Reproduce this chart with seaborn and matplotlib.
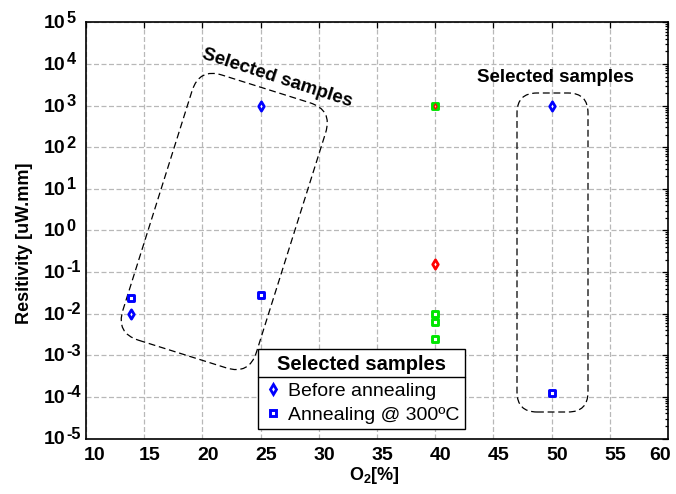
import numpy as np
import pandas as pd
import matplotlib
matplotlib.use("Agg")
import matplotlib.pyplot as plt
import seaborn as sns
from matplotlib.patches import FancyBboxPatch
from matplotlib.lines import Line2D
from matplotlib import transforms as mtransforms
from matplotlib.ticker import FixedLocator, NullLocator, LogLocator, NullFormatter

# ---------------- data ----------------
before_o2 = [13.9, 25.0, 50.0]
before_res = [0.010, 1000.0, 1000.0]
anneal_o2 = [13.9, 25.0, 50.0]
anneal_res = [0.024, 0.028, 1.23e-4]
other_before_o2 = [40.0, 40.0]
other_before_res = [1000.0, 0.155]
other_anneal_o2 = [40.0, 40.0, 40.0, 40.0]
other_anneal_res = [1000.0, 0.0098, 0.0064, 0.0024]

x_ticks = [10, 15, 20, 25, 30, 35, 40, 45, 50, 55, 60]
y_exponents = [-5, -4, -3, -2, -1, 0, 1, 2, 3, 4, 5]
legend_title = "Selected samples"
legend_labels = ["Before annealing", "Annealing @ 300ºC"]
note_text = "Selected samples"
x_label = "O$_{\\mathbf{2}}$[%]"
y_label = "Resitivity [uW.mm]"

# ---------------- style ----------------
sns.set_style("white")
plt.rcParams["font.family"] = ["Liberation Sans", "DejaVu Sans"]
plt.rcParams["mathtext.fontset"] = "custom"
plt.rcParams["mathtext.rm"] = "Liberation Sans"
plt.rcParams["mathtext.bf"] = "Liberation Sans:bold"
for k in ["text.color", "axes.labelcolor", "xtick.color", "ytick.color",
          "xtick.labelcolor", "ytick.labelcolor"]:
    plt.rcParams[k] = "black"

BLUE = "#0000ff"
RED = "#ff0000"
GREEN = "#00e600"

fig = plt.figure(figsize=(6.76, 4.94), dpi=100)
L, R, T, B = 86, 668, 22.4, 438.5
ax = fig.add_axes([L / 676, (494 - B) / 494, (R - L) / 676, (B - T) / 494])

df_b = pd.DataFrame({"o2": before_o2, "res": before_res})
df_a = pd.DataFrame({"o2": anneal_o2, "res": anneal_res})
df_ob = pd.DataFrame({"o2": other_before_o2, "res": other_before_res})
df_oa = pd.DataFrame({"o2": other_anneal_o2, "res": other_anneal_res})

sq_kw = dict(marker="s", s=24, color="white", linewidth=2.1, zorder=5)
di_kw = dict(marker="d", s=22, color="white", linewidth=2.0, zorder=5)

sns.scatterplot(data=df_oa, x="o2", y="res", edgecolor=GREEN, ax=ax,
                legend=False, **sq_kw)
sns.scatterplot(data=df_ob.iloc[1:], x="o2", y="res", edgecolor=RED, ax=ax,
                legend=False, **di_kw)
sns.scatterplot(data=df_ob.iloc[:1], x="o2", y="res", edgecolor=RED, ax=ax,
                legend=False, marker="d", s=7, color="#ffb0b0",
                linewidth=0.9, zorder=6)
sns.scatterplot(data=df_b, x="o2", y="res", edgecolor=BLUE, ax=ax,
                legend=False, **di_kw)
sns.scatterplot(data=df_a, x="o2", y="res", edgecolor=BLUE, ax=ax,
                legend=False, **sq_kw)

ax.set_yscale("log")
ax.set_xlim(10, 60)
ax.set_ylim(1e-5, 1e5)

# ---------------- ticks ----------------
ax.xaxis.set_major_locator(FixedLocator(x_ticks))
ax.xaxis.set_minor_locator(NullLocator())
ax.set_xticklabels([str(t) for t in x_ticks], fontsize=14, fontweight="bold")
ax.yaxis.set_major_locator(FixedLocator([10.0 ** e for e in y_exponents]))
ax.yaxis.set_minor_locator(LogLocator(base=10, subs=np.arange(2, 10), numticks=100))
ax.yaxis.set_major_formatter(NullFormatter())
ax.yaxis.set_minor_formatter(NullFormatter())
ax.tick_params(axis="both", which="both", direction="in", top=True, right=True,
               color="black", width=0.9)
ax.tick_params(axis="both", which="major", length=4.3)
ax.tick_params(axis="y", which="minor", length=2.3)
ax.tick_params(axis="x", which="major", pad=6)

# shift x tick labels like the reference
for i, lab in enumerate(ax.get_xticklabels()):
    dx = 3.8
    if i == 0:
        dx = 6.5
    elif i == len(x_ticks) - 1:
        dx = -6.0
    lab.set_transform(lab.get_transform() +
                      mtransforms.ScaledTranslation(dx / 72, 0, fig.dpi_scale_trans))

# y tick labels as base + exponent
for e in y_exponents:
    ax.annotate("10", xy=(0, 10.0 ** e), xycoords=("axes fraction", "data"),
                xytext=(-15.0, -4.3), textcoords="offset points",
                ha="right", va="baseline", fontsize=14, fontweight="bold",
                annotation_clip=False)
    ax.annotate(str(e), xy=(0, 10.0 ** e),
                xycoords=("axes fraction", "data"),
                xytext=(-13.8, -0.3), textcoords="offset points",
                ha="left", va="baseline", fontsize=11.8, fontweight="bold",
                annotation_clip=False)

for sp in ax.spines.values():
    sp.set_color("black")
    sp.set_linewidth(1.2)

ax.grid(True, which="major", color="#b8b8b8", linestyle=(0, (4, 2)), linewidth=0.9)
ax.set_axisbelow(True)

ax.set_xlabel(x_label, fontsize=13, fontweight="bold", va="center")
ax.xaxis.set_label_coords(0.496, -0.088)
ax.set_ylabel(y_label, fontsize=13, fontweight="bold", va="center")
ax.yaxis.set_label_coords(-0.106, 0.47)

# ---------------- annotations ----------------
ax.text(26.4, 4.6e3, note_text, rotation=-18, rotation_mode="anchor",
        ha="center", va="center", fontsize=13.5, fontweight="bold", zorder=7)
ax.text(50.3, 4.8e3, note_text, ha="center", va="center",
        fontsize=13.5, fontweight="bold", zorder=7)

box_kw = dict(fill=False, edgecolor="black", linewidth=0.9,
              linestyle=(0, (5.5, 3)), clip_on=False, zorder=4)
cx, cy, w, h = 2.2425, 2.725, 1.40, 2.78
rot = mtransforms.Affine2D().rotate_deg_around(cx, cy, -17.5) + fig.dpi_scale_trans
ax.add_patch(FancyBboxPatch((cx - w / 2, cy - h / 2), w, h,
                            boxstyle="round,pad=0,rounding_size=0.24",
                            transform=rot, **box_kw))
ax.add_patch(FancyBboxPatch((5.17, 0.82), 0.71, 3.19,
                            boxstyle="round,pad=0,rounding_size=0.2",
                            transform=fig.dpi_scale_trans, **box_kw))

# ---------------- legend ----------------
handles = [
    Line2D([], [], linestyle="none", marker="d", markersize=4.7,
           markerfacecolor="white", markeredgecolor=BLUE, markeredgewidth=2.0),
    Line2D([], [], linestyle="none", marker="s", markersize=4.9,
           markerfacecolor="white", markeredgecolor=BLUE, markeredgewidth=2.1),
]
leg = ax.legend(handles, legend_labels, title=legend_title,
                loc="upper left", bbox_to_anchor=((258 - L) / (R - L), (B - 349) / (B - T)),
                borderaxespad=0, frameon=True, fancybox=False, framealpha=1,
                edgecolor="black", fontsize=14, handlelength=0.9,
                handletextpad=0.35, borderpad=0.3, labelspacing=0.32,
                title_fontproperties={"weight": "bold", "size": 14.5})
leg.get_frame().set_linewidth(1.0)
leg.set_zorder(10)
leg._legend_box.sep = 6.0

fig.canvas.draw()
renderer = fig.canvas.get_renderer()
lb = leg.get_window_extent(renderer)
tb = leg.get_title().get_window_extent(renderer)
ysep = tb.y0 - 3.5
inv = fig.transFigure.inverted()
(x0f, yf), (x1f, _) = inv.transform([(lb.x0, ysep), (lb.x1, ysep)])
fig.add_artist(Line2D([x0f, x1f], [yf, yf], color="black", linewidth=1.0,
                      transform=fig.transFigure, zorder=11))

fig.savefig("out.png", dpi=100)
